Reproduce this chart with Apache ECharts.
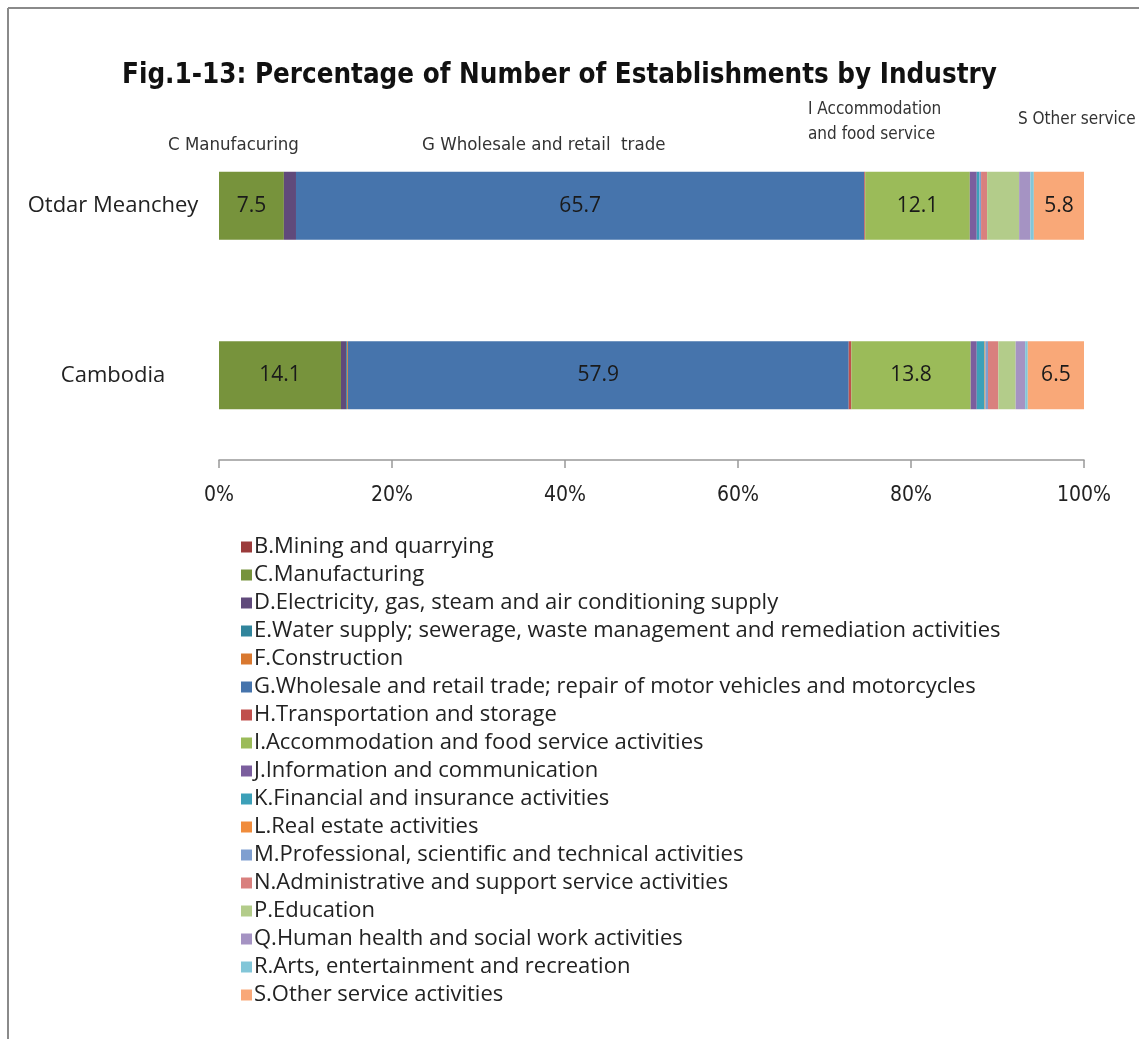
<!DOCTYPE html>
<html>
<head>
<meta charset="utf-8">
<script type="text/javascript" src="https://cdn.jsdelivr.net/npm/echarts@6/dist/echarts.min.js"></script>
<style type="text/css">
    * { margin: 0; padding: 0; }
    #container { width: 1139px; height: 1039px; background: #fff; }
</style>
</head>
<body>
<div id="container"></div>
<script type="text/javascript">
// regions (top to bottom)
var regions = ['Otdar Meanchey', 'Cambodia'];

// industries, in stacking order
var industries = [
    'B.Mining and quarrying',
    'C.Manufacturing',
    'D.Electricity, gas, steam and air conditioning supply',
    'E.Water supply; sewerage, waste management and remediation activities',
    'F.Construction',
    'G.Wholesale and retail trade; repair of motor vehicles and motorcycles',
    'H.Transportation and storage',
    'I.Accommodation and food service activities',
    'J.Information and communication',
    'K.Financial and insurance activities',
    'L.Real estate activities',
    'M.Professional, scientific and technical activities',
    'N.Administrative and support service activities',
    'P.Education',
    'Q.Human health and social work activities',
    'R.Arts, entertainment and recreation',
    'S.Other service activities'
];

// percentage shares, same order as industries
var otdarValues    = [0, 7.5, 1.4, 0, 0, 65.7, 0.1, 12.1, 0.8, 0.3, 0, 0.2, 0.7, 3.7, 1.3, 0.4, 5.8];
var cambodiaValues = [0, 14.1, 0.6, 0.1, 0.1, 57.9, 0.3, 13.8, 0.7, 0.9, 0.1, 0.3, 1.2, 2.0, 1.1, 0.3, 6.5];

// which industries get a value label inside the bar
var labelledIndex = [1, 5, 7, 16];

var colors = ['#9B3B3B', '#77933C', '#604A7B', '#31859C', '#D9782F', '#4674AC', '#C0504D', '#9BBB59',
              '#7B5E9E', '#3CA0B8', '#F08C3C', '#7F9FD0', '#D9807E', '#B3CC8A', '#A593C3', '#82C6D8', '#F9A878'];

var tickLabels = ['0%', '20%', '40%', '60%', '80%', '100%'];

var narrow = "'DejaVu Sans Condensed', sans-serif";

var series = [];
for (var i = 0; i < industries.length; i++) {
    var showLabel = labelledIndex.indexOf(i) >= 0;
    series.push({
        name: industries[i],
        type: 'bar',
        stack: 'total',
        barWidth: 68,
        data: [otdarValues[i], cambodiaValues[i]],
        itemStyle: { color: colors[i] },
        label: {
            show: showLabel,
            position: 'inside',
            color: '#1a1a1a',
            fontSize: 21,
            fontFamily: 'Open Sans',
            formatter: function (p) { return p.value.toFixed(1); }
        },
        emphasis: { disabled: true }
    });
}

var chart = echarts.init(document.getElementById('container'));

var option = {
    animation: false,
    backgroundColor: '#fff',
    title: {
        text: 'Fig.1-13: Percentage of Number of Establishments by Industry',
        left: 117,
        top: 57,
        textStyle: { fontSize: 27.5, fontWeight: 'bold', color: '#111', fontFamily: narrow }
    },
    grid: { left: 219, right: 55, top: 121, height: 339 },
    xAxis: {
        type: 'value',
        min: 0,
        max: 100,
        interval: 20,
        axisLine: { show: true, lineStyle: { color: '#999', width: 1.5 } },
        axisTick: { show: true, length: 8, lineStyle: { color: '#999', width: 1.5 } },
        splitLine: { show: false },
        axisLabel: {
            margin: 25,
            fontSize: 21,
            color: '#222',
            fontFamily: narrow,
            formatter: function (v) { return tickLabels[v / 20]; }
        }
    },
    yAxis: {
        type: 'category',
        inverse: true,
        data: regions,
        axisLine: { show: false },
        axisTick: { show: false },
        axisLabel: { margin: 106, align: 'center', fontSize: 22, color: '#222', fontFamily: 'Open Sans' }
    },
    legend: {
        orient: 'vertical',
        left: 236,
        top: 531,
        height: 500,
        itemWidth: 11,
        itemHeight: 11,
        itemGap: 6,
        icon: 'rect',
        selectedMode: false,
        data: industries,
        textStyle: { fontSize: 22, lineHeight: 22, color: '#222', fontFamily: 'Open Sans', padding: [0, 0, 0, -3] }
    },
    graphic: [
        { type: 'line', shape: { x1: 8, y1: 8, x2: 1139, y2: 8 }, style: { stroke: '#8a8a8a', lineWidth: 2 } },
        { type: 'line', shape: { x1: 8, y1: 8, x2: 8, y2: 1039 }, style: { stroke: '#8a8a8a', lineWidth: 2 } },
        { type: 'text', left: 168, top: 136, style: { text: 'C Manufacuring', fontSize: 18.5, fill: '#333', fontFamily: narrow } },
        { type: 'text', left: 422, top: 136, style: { text: 'G Wholesale and retail  trade', fontSize: 18.5, fill: '#333', fontFamily: narrow } },
        { type: 'text', left: 808, top: 97, style: { text: 'I Accommodation\nand food service', fontSize: 17, lineHeight: 25, fill: '#333', fontFamily: narrow } },
        { type: 'text', left: 1018, top: 111, style: { text: 'S Other service', fontSize: 17, fill: '#333', fontFamily: narrow } }
    ],
    series: series
};

chart.setOption(option);
</script>
</body>
</html>
